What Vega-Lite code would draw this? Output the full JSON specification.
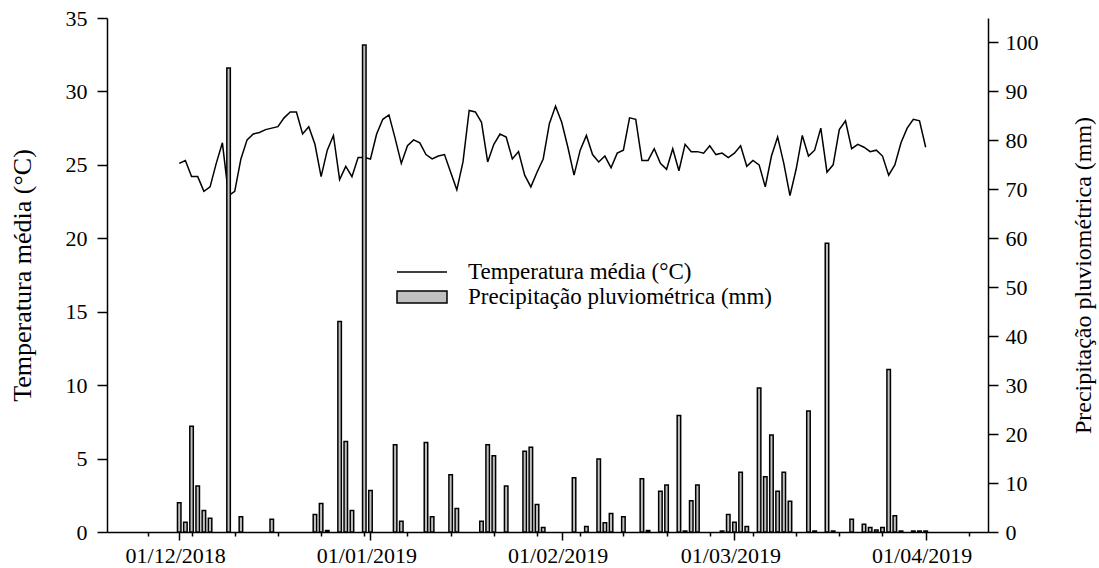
{
  "$schema": "https://vega.github.io/schema/vega-lite/v6.json",
  "width": 881,
  "height": 514,
  "autosize": "none",
  "padding": {"left": 107, "top": 18, "right": 111, "bottom": 36},
  "background": "white",
  "config": {
    "view": {"stroke": null},
    "font": "Liberation Serif",
    "axis": {
      "domainColor": "black", "domainWidth": 1.5, "tickColor": "black", "tickWidth": 1.5,
      "labelColor": "black", "labelFont": "Liberation Serif", "labelFontSize": 22,
      "titleFont": "Liberation Serif", "titleFontWeight": "normal", "titleColor": "black", "grid": false
    },
    "legend": {"labelFont": "Liberation Serif", "labelFontSize": 23, "labelColor": "black", "padding": 0, "labelLimit": 500}
  },
  "datasets": {
    "temp": [
      {"date": "2018-12-01T00:00", "temperatura": 25.1},
      {"date": "2018-12-02T00:00", "temperatura": 25.3},
      {"date": "2018-12-03T00:00", "temperatura": 24.2},
      {"date": "2018-12-04T00:00", "temperatura": 24.2},
      {"date": "2018-12-05T00:00", "temperatura": 23.2},
      {"date": "2018-12-06T00:00", "temperatura": 23.5},
      {"date": "2018-12-07T00:00", "temperatura": 25.1},
      {"date": "2018-12-08T00:00", "temperatura": 26.5},
      {"date": "2018-12-09T00:00", "temperatura": 22.9},
      {"date": "2018-12-10T00:00", "temperatura": 23.2},
      {"date": "2018-12-11T00:00", "temperatura": 25.4},
      {"date": "2018-12-12T00:00", "temperatura": 26.7},
      {"date": "2018-12-13T00:00", "temperatura": 27.1},
      {"date": "2018-12-14T00:00", "temperatura": 27.2},
      {"date": "2018-12-15T00:00", "temperatura": 27.4},
      {"date": "2018-12-16T00:00", "temperatura": 27.5},
      {"date": "2018-12-17T00:00", "temperatura": 27.6},
      {"date": "2018-12-18T00:00", "temperatura": 28.2},
      {"date": "2018-12-19T00:00", "temperatura": 28.6},
      {"date": "2018-12-20T00:00", "temperatura": 28.6},
      {"date": "2018-12-21T00:00", "temperatura": 27.1},
      {"date": "2018-12-22T00:00", "temperatura": 27.6},
      {"date": "2018-12-23T00:00", "temperatura": 26.4},
      {"date": "2018-12-24T00:00", "temperatura": 24.2},
      {"date": "2018-12-25T00:00", "temperatura": 26.0},
      {"date": "2018-12-26T00:00", "temperatura": 27.0},
      {"date": "2018-12-27T00:00", "temperatura": 24.0},
      {"date": "2018-12-28T00:00", "temperatura": 24.9},
      {"date": "2018-12-29T00:00", "temperatura": 24.2},
      {"date": "2018-12-30T00:00", "temperatura": 25.5},
      {"date": "2018-12-31T00:00", "temperatura": 25.5},
      {"date": "2019-01-01T00:00", "temperatura": 25.4},
      {"date": "2019-01-02T00:00", "temperatura": 27.1},
      {"date": "2019-01-03T00:00", "temperatura": 28.1},
      {"date": "2019-01-04T00:00", "temperatura": 28.4},
      {"date": "2019-01-05T00:00", "temperatura": 26.8},
      {"date": "2019-01-06T00:00", "temperatura": 25.1},
      {"date": "2019-01-07T00:00", "temperatura": 26.3},
      {"date": "2019-01-08T00:00", "temperatura": 26.7},
      {"date": "2019-01-09T00:00", "temperatura": 26.5},
      {"date": "2019-01-10T00:00", "temperatura": 25.7},
      {"date": "2019-01-11T00:00", "temperatura": 25.4},
      {"date": "2019-01-12T00:00", "temperatura": 25.6},
      {"date": "2019-01-13T00:00", "temperatura": 25.7},
      {"date": "2019-01-14T00:00", "temperatura": 24.5},
      {"date": "2019-01-15T00:00", "temperatura": 23.3},
      {"date": "2019-01-16T00:00", "temperatura": 25.2},
      {"date": "2019-01-17T00:00", "temperatura": 28.7},
      {"date": "2019-01-18T00:00", "temperatura": 28.6},
      {"date": "2019-01-19T00:00", "temperatura": 27.9},
      {"date": "2019-01-20T00:00", "temperatura": 25.2},
      {"date": "2019-01-21T00:00", "temperatura": 26.4},
      {"date": "2019-01-22T00:00", "temperatura": 27.1},
      {"date": "2019-01-23T00:00", "temperatura": 26.9},
      {"date": "2019-01-24T00:00", "temperatura": 25.4},
      {"date": "2019-01-25T00:00", "temperatura": 25.9},
      {"date": "2019-01-26T00:00", "temperatura": 24.3},
      {"date": "2019-01-27T00:00", "temperatura": 23.5},
      {"date": "2019-01-28T00:00", "temperatura": 24.5},
      {"date": "2019-01-29T00:00", "temperatura": 25.4},
      {"date": "2019-01-30T00:00", "temperatura": 27.8},
      {"date": "2019-01-31T00:00", "temperatura": 29.0},
      {"date": "2019-02-01T00:00", "temperatura": 27.9},
      {"date": "2019-02-02T00:00", "temperatura": 26.2},
      {"date": "2019-02-03T00:00", "temperatura": 24.3},
      {"date": "2019-02-04T00:00", "temperatura": 26.0},
      {"date": "2019-02-05T00:00", "temperatura": 27.0},
      {"date": "2019-02-06T00:00", "temperatura": 25.7},
      {"date": "2019-02-07T00:00", "temperatura": 25.2},
      {"date": "2019-02-08T00:00", "temperatura": 25.6},
      {"date": "2019-02-09T00:00", "temperatura": 24.8},
      {"date": "2019-02-10T00:00", "temperatura": 25.8},
      {"date": "2019-02-11T00:00", "temperatura": 26.0},
      {"date": "2019-02-12T00:00", "temperatura": 28.2},
      {"date": "2019-02-13T00:00", "temperatura": 28.1},
      {"date": "2019-02-14T00:00", "temperatura": 25.3},
      {"date": "2019-02-15T00:00", "temperatura": 25.3},
      {"date": "2019-02-16T00:00", "temperatura": 26.1},
      {"date": "2019-02-17T00:00", "temperatura": 25.1},
      {"date": "2019-02-18T00:00", "temperatura": 24.7},
      {"date": "2019-02-19T00:00", "temperatura": 26.1},
      {"date": "2019-02-20T00:00", "temperatura": 24.6},
      {"date": "2019-02-21T00:00", "temperatura": 26.4},
      {"date": "2019-02-22T00:00", "temperatura": 25.9},
      {"date": "2019-02-23T00:00", "temperatura": 25.9},
      {"date": "2019-02-24T00:00", "temperatura": 25.8},
      {"date": "2019-02-25T00:00", "temperatura": 26.3},
      {"date": "2019-02-26T00:00", "temperatura": 25.7},
      {"date": "2019-02-27T00:00", "temperatura": 25.8},
      {"date": "2019-02-28T00:00", "temperatura": 25.5},
      {"date": "2019-03-01T00:00", "temperatura": 25.8},
      {"date": "2019-03-02T00:00", "temperatura": 26.3},
      {"date": "2019-03-03T00:00", "temperatura": 24.9},
      {"date": "2019-03-04T00:00", "temperatura": 25.3},
      {"date": "2019-03-05T00:00", "temperatura": 25.0},
      {"date": "2019-03-06T00:00", "temperatura": 23.5},
      {"date": "2019-03-07T00:00", "temperatura": 25.6},
      {"date": "2019-03-08T00:00", "temperatura": 26.9},
      {"date": "2019-03-09T00:00", "temperatura": 25.1},
      {"date": "2019-03-10T00:00", "temperatura": 22.9},
      {"date": "2019-03-11T00:00", "temperatura": 24.7},
      {"date": "2019-03-12T00:00", "temperatura": 27.0},
      {"date": "2019-03-13T00:00", "temperatura": 25.6},
      {"date": "2019-03-14T00:00", "temperatura": 26.0},
      {"date": "2019-03-15T00:00", "temperatura": 27.5},
      {"date": "2019-03-16T00:00", "temperatura": 24.5},
      {"date": "2019-03-17T00:00", "temperatura": 25.0},
      {"date": "2019-03-18T00:00", "temperatura": 27.4},
      {"date": "2019-03-19T00:00", "temperatura": 28.0},
      {"date": "2019-03-20T00:00", "temperatura": 26.1},
      {"date": "2019-03-21T00:00", "temperatura": 26.4},
      {"date": "2019-03-22T00:00", "temperatura": 26.2},
      {"date": "2019-03-23T00:00", "temperatura": 25.9},
      {"date": "2019-03-24T00:00", "temperatura": 26.0},
      {"date": "2019-03-25T00:00", "temperatura": 25.6},
      {"date": "2019-03-26T00:00", "temperatura": 24.3},
      {"date": "2019-03-27T00:00", "temperatura": 25.0},
      {"date": "2019-03-28T00:00", "temperatura": 26.5},
      {"date": "2019-03-29T00:00", "temperatura": 27.5},
      {"date": "2019-03-30T00:00", "temperatura": 28.1},
      {"date": "2019-03-31T00:00", "temperatura": 28.0},
      {"date": "2019-04-01T00:00", "temperatura": 26.2}
    ],
    "rain": [
      {"date": "2018-12-01T00:00", "precipitacao": 6.0},
      {"date": "2018-12-02T00:00", "precipitacao": 2.0},
      {"date": "2018-12-03T00:00", "precipitacao": 21.6},
      {"date": "2018-12-04T00:00", "precipitacao": 9.4},
      {"date": "2018-12-05T00:00", "precipitacao": 4.4},
      {"date": "2018-12-06T00:00", "precipitacao": 2.8},
      {"date": "2018-12-09T00:00", "precipitacao": 94.8},
      {"date": "2018-12-11T00:00", "precipitacao": 3.1},
      {"date": "2018-12-16T00:00", "precipitacao": 2.6},
      {"date": "2018-12-23T00:00", "precipitacao": 3.6},
      {"date": "2018-12-24T00:00", "precipitacao": 5.8},
      {"date": "2018-12-25T00:00", "precipitacao": 0.3},
      {"date": "2018-12-27T00:00", "precipitacao": 43.0},
      {"date": "2018-12-28T00:00", "precipitacao": 18.5},
      {"date": "2018-12-29T00:00", "precipitacao": 4.4},
      {"date": "2018-12-31T00:00", "precipitacao": 99.5},
      {"date": "2019-01-01T00:00", "precipitacao": 8.5},
      {"date": "2019-01-05T00:00", "precipitacao": 17.8},
      {"date": "2019-01-06T00:00", "precipitacao": 2.2},
      {"date": "2019-01-10T00:00", "precipitacao": 18.3},
      {"date": "2019-01-11T00:00", "precipitacao": 3.1},
      {"date": "2019-01-14T00:00", "precipitacao": 11.7},
      {"date": "2019-01-15T00:00", "precipitacao": 4.8},
      {"date": "2019-01-19T00:00", "precipitacao": 2.2},
      {"date": "2019-01-20T00:00", "precipitacao": 17.8},
      {"date": "2019-01-21T00:00", "precipitacao": 15.6},
      {"date": "2019-01-23T00:00", "precipitacao": 9.4},
      {"date": "2019-01-26T00:00", "precipitacao": 16.5},
      {"date": "2019-01-27T00:00", "precipitacao": 17.3},
      {"date": "2019-01-28T00:00", "precipitacao": 5.6},
      {"date": "2019-01-29T00:00", "precipitacao": 0.9},
      {"date": "2019-02-03T00:00", "precipitacao": 11.1},
      {"date": "2019-02-05T00:00", "precipitacao": 1.1},
      {"date": "2019-02-07T00:00", "precipitacao": 14.9},
      {"date": "2019-02-08T00:00", "precipitacao": 1.9},
      {"date": "2019-02-09T00:00", "precipitacao": 3.8},
      {"date": "2019-02-11T00:00", "precipitacao": 3.1},
      {"date": "2019-02-14T00:00", "precipitacao": 10.9},
      {"date": "2019-02-15T00:00", "precipitacao": 0.3},
      {"date": "2019-02-17T00:00", "precipitacao": 8.3},
      {"date": "2019-02-18T00:00", "precipitacao": 9.6},
      {"date": "2019-02-20T00:00", "precipitacao": 23.8},
      {"date": "2019-02-21T00:00", "precipitacao": 0.2},
      {"date": "2019-02-22T00:00", "precipitacao": 6.4},
      {"date": "2019-02-23T00:00", "precipitacao": 9.6},
      {"date": "2019-02-27T00:00", "precipitacao": 0.2},
      {"date": "2019-02-28T00:00", "precipitacao": 3.6},
      {"date": "2019-03-01T00:00", "precipitacao": 2.0},
      {"date": "2019-03-02T00:00", "precipitacao": 12.2},
      {"date": "2019-03-03T00:00", "precipitacao": 1.1},
      {"date": "2019-03-05T00:00", "precipitacao": 29.4},
      {"date": "2019-03-06T00:00", "precipitacao": 11.3},
      {"date": "2019-03-07T00:00", "precipitacao": 19.8},
      {"date": "2019-03-08T00:00", "precipitacao": 8.3},
      {"date": "2019-03-09T00:00", "precipitacao": 12.2},
      {"date": "2019-03-10T00:00", "precipitacao": 6.3},
      {"date": "2019-03-13T00:00", "precipitacao": 24.7},
      {"date": "2019-03-14T00:00", "precipitacao": 0.2},
      {"date": "2019-03-16T00:00", "precipitacao": 59.0},
      {"date": "2019-03-17T00:00", "precipitacao": 0.2},
      {"date": "2019-03-20T00:00", "precipitacao": 2.6},
      {"date": "2019-03-22T00:00", "precipitacao": 1.6},
      {"date": "2019-03-23T00:00", "precipitacao": 0.9},
      {"date": "2019-03-24T00:00", "precipitacao": 0.4},
      {"date": "2019-03-25T00:00", "precipitacao": 0.9},
      {"date": "2019-03-26T00:00", "precipitacao": 33.2},
      {"date": "2019-03-27T00:00", "precipitacao": 3.3},
      {"date": "2019-03-28T00:00", "precipitacao": 0.2},
      {"date": "2019-03-30T00:00", "precipitacao": 0.2},
      {"date": "2019-03-31T00:00", "precipitacao": 0.2},
      {"date": "2019-04-01T00:00", "precipitacao": 0.2}
    ]
  },
  "encoding": {
    "x": {
      "field": "date", "type": "temporal", "title": null,
      "scale": {"domain": [{"year": 2018, "month": 11, "date": 20, "hours": 2, "minutes": 30}, {"year": 2019, "month": 4, "date": 10, "hours": 7}]},
      "axis": {
        "values": [
          {"year": 2018, "month": 11, "date": 26}, {"year": 2018, "month": 12, "date": 1}, {"year": 2018, "month": 12, "date": 3},
          {"year": 2018, "month": 12, "date": 10}, {"year": 2018, "month": 12, "date": 17}, {"year": 2018, "month": 12, "date": 24},
          {"year": 2018, "month": 12, "date": 31}, {"year": 2019, "month": 1, "date": 1}, {"year": 2019, "month": 1, "date": 7},
          {"year": 2019, "month": 1, "date": 14}, {"year": 2019, "month": 1, "date": 21}, {"year": 2019, "month": 1, "date": 28},
          {"year": 2019, "month": 2, "date": 1}, {"year": 2019, "month": 2, "date": 4}, {"year": 2019, "month": 2, "date": 11},
          {"year": 2019, "month": 2, "date": 18}, {"year": 2019, "month": 2, "date": 25}, {"year": 2019, "month": 3, "date": 1},
          {"year": 2019, "month": 3, "date": 4}, {"year": 2019, "month": 3, "date": 11}, {"year": 2019, "month": 3, "date": 18},
          {"year": 2019, "month": 3, "date": 25}, {"year": 2019, "month": 4, "date": 1}, {"year": 2019, "month": 4, "date": 8}
        ],
        "labelExpr": "date(datum.value) == 1 ? timeFormat(datum.value, '%d/%m/%Y') : ''",
        "tickSize": {"condition": {"test": "date(datum.value) == 1", "value": 8}, "value": 4},
        "labelPadding": 5,
        "labelFontSize": 22,
        "labelOffset": -4,
        "labelOverlap": false,
        "labelFlush": false
      }
    }
  },
  "layer": [
    {
      "data": {"name": "temp"},
      "mark": {"type": "line", "strokeWidth": 1.5},
      "encoding": {
        "y": {
          "field": "temperatura", "type": "quantitative",
          "scale": {"domain": [0, 35], "nice": false},
          "axis": {
            "orient": "left", "values": [0, 5, 10, 15, 20, 25, 30, 35], "tickSize": 10, "labelPadding": 10,
            "title": "Temperatura média (°C)", "titleFontSize": 26, "titleAngle": -90,
            "titleX": -85, "titleY": 257, "titleAlign": "center", "titleBaseline": "middle"
          }
        },
        "stroke": {
          "datum": "Temperatura média (°C)", "type": "nominal",
          "scale": {"range": ["black"]},
          "legend": {
            "title": null, "orient": "none", "legendX": 289, "legendY": 228,
            "symbolType": "stroke", "symbolSize": 2500, "symbolStrokeWidth": 1.5, "labelOffset": 20
          }
        }
      }
    },
    {
      "data": {"name": "rain"},
      "mark": {"type": "bar", "size": 3.5, "stroke": "black", "strokeWidth": 1.5},
      "encoding": {
        "y": {
          "field": "precipitacao", "type": "quantitative",
          "scale": {"domain": [0, 105], "nice": false},
          "axis": {
            "orient": "right", "values": [0, 10, 20, 30, 40, 50, 60, 70, 80, 90, 100], "tickSize": 10, "labelPadding": 7,
            "title": "Precipitação pluviométrica (mm)", "titleFontSize": 24, "titleAngle": -90,
            "titleX": 95, "titleY": 257, "titleAlign": "center", "titleBaseline": "middle"
          }
        },
        "fill": {
          "datum": "Precipitação pluviométrica (mm)", "type": "nominal",
          "scale": {"range": ["#c0c0c0"]},
          "legend": {
            "title": null, "orient": "none", "legendX": 289, "legendY": 253,
            "symbolType": "M-1,-0.24H1V0.24H-1Z", "symbolSize": 2500, "symbolStrokeColor": "black", "symbolStrokeWidth": 1.5, "labelOffset": 20,
            "encode": {"symbols": {"update": {"stroke": {"value": "black"}, "strokeWidth": {"value": 1.5}}}}
          }
        }
      }
    }
  ],
  "resolve": {"scale": {"y": "independent"}}
}
